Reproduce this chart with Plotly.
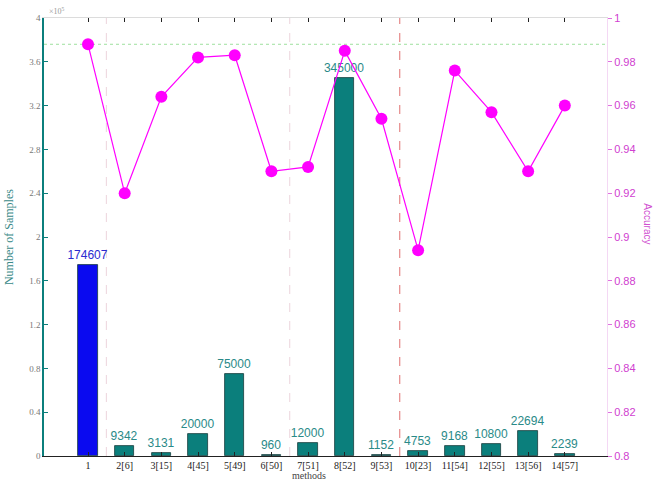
import plotly.graph_objects as go

# Per-method sample counts and accuracies
methods = ["1", "2[6]", "3[15]", "4[45]", "5[49]", "6[50]", "7[51]", "8[52]",
           "9[53]", "10[23]", "11[54]", "12[55]", "13[56]", "14[57]"]
positions = list(range(1, 15))
samples = [174607, 9342, 3131, 20000, 75000, 960, 12000, 345000,
           1152, 4753, 9168, 10800, 22694, 2239]
accuracy = [0.988, 0.920, 0.964, 0.982, 0.983, 0.930, 0.932, 0.985,
            0.954, 0.894, 0.976, 0.957, 0.930, 0.960]
left_ticks = [0, 40000, 80000, 120000, 160000, 200000, 240000, 280000, 320000, 360000, 400000]
left_tick_text = ["0", "0.4", "0.8", "1.2", "1.6", "2", "2.4", "2.8", "3.2", "3.6", "4"]
reference_acc = 0.988
group_bounds = [1.5, 6.5]
split_bound = 9.5

TEAL = "#0b7f7c"
BLUE = "#0a0af0"
MAGENTA = "#ff00ff"

bar_colors = [BLUE] + [TEAL] * (len(samples) - 1)
label_colors = ["#2a2ad0"] + ["#2a8a88"] * (len(samples) - 1)

fig = go.Figure()

fig.add_trace(go.Bar(
    x=positions, y=samples, width=0.53,
    marker=dict(color=bar_colors, line=dict(color="#163c3c", width=0.8)),
    text=[str(v) for v in samples], textposition="outside", constraintext="none",
    textfont=dict(family="Liberation Sans, Arial", size=12, color=label_colors),
    cliponaxis=False, yaxis="y", showlegend=False,
))

fig.add_trace(go.Scatter(
    x=positions, y=accuracy, mode="lines+markers", yaxis="y2",
    line=dict(color=MAGENTA, width=1.2),
    marker=dict(color=MAGENTA, size=12),
    showlegend=False, cliponaxis=False,
))

# invisible trace so the top (box) axis is drawn
fig.add_trace(go.Scatter(x=[1], y=[0], xaxis="x2", yaxis="y", mode="markers",
                         marker=dict(opacity=0), showlegend=False, hoverinfo="skip"))

shapes = []
for xb in group_bounds:
    shapes.append(dict(type="line", xref="x", yref="paper", x0=xb, x1=xb, y0=0, y1=1,
                       line=dict(color="#ecd4dc", width=1, dash="dash"), layer="below"))
shapes.append(dict(type="line", xref="x", yref="paper", x0=split_bound, x1=split_bound, y0=0, y1=1,
                   line=dict(color="#e07070", width=1, dash="dash"), layer="below"))
shapes.append(dict(type="line", xref="paper", yref="y2", x0=0, x1=1, y0=reference_acc, y1=reference_acc,
                   line=dict(color="#9ee09e", width=1, dash="dot"), layer="below"))

xrange = [-0.2, 15.15]

fig.update_layout(
    width=662, height=483,
    margin=dict(l=44, r=55, t=15, b=22),
    paper_bgcolor="white", plot_bgcolor="white",
    bargap=0,
    shapes=shapes,
    xaxis=dict(range=xrange, tickvals=positions, ticktext=methods,
               ticks="inside", ticklen=4, tickcolor="#222",
               showline=True, linecolor="#222", linewidth=1,
               showgrid=False, zeroline=False,
               tickfont=dict(family="Liberation Serif, Times New Roman", size=10, color="#222")),
    xaxis2=dict(range=xrange, overlaying="x", side="top", tickvals=positions,
                showticklabels=False, ticks="inside", ticklen=4, tickcolor="#222",
                showline=True, linecolor="#dcdcdc", linewidth=1,
                showgrid=False, zeroline=False),
    yaxis=dict(range=[0, 400000], tickvals=left_ticks, ticktext=left_tick_text,
               ticks="inside", ticklen=4, tickcolor=TEAL,
               showline=True, linecolor=TEAL, linewidth=1.5,
               showgrid=False, zeroline=False,
               tickfont=dict(family="Liberation Serif, Times New Roman", size=9, color="#777")),
    yaxis2=dict(range=[0.8, 1.0], overlaying="y", side="right",
                tickvals=[0.8, 0.82, 0.84, 0.86, 0.88, 0.9, 0.92, 0.94, 0.96, 0.98, 1.0],
                ticktext=["0.8", "0.82", "0.84", "0.86", "0.88", "0.9", "0.92", "0.94", "0.96", "0.98", "1"],
                ticks="outside", ticklen=4, tickcolor="#e070e0",
                showline=True, linecolor="#f4d8f4", linewidth=1,
                showgrid=False, zeroline=False,
                tickfont=dict(family="Liberation Sans, Arial", size=11, color="#d040d0")),
    annotations=[
        dict(text="Number of Samples", xref="paper", yref="paper", x=-0.062, y=0.5,
             textangle=-90, showarrow=False, xanchor="center", yanchor="middle",
             font=dict(family="Liberation Serif, Times New Roman", size=12, color="#3a8a88")),
        dict(text="Accuracy", x=1.072, y=0.53, xref="paper", yref="paper",
             textangle=90, showarrow=False, xanchor="center", yanchor="middle",
             font=dict(family="Liberation Sans, Arial", size=10, color="#d050d0")),
        dict(text="methods", xref="paper", yref="paper", x=0.47, y=-0.03,
             showarrow=False, xanchor="center", yanchor="top", borderpad=0,
             font=dict(family="Liberation Serif, Times New Roman", size=10, color="#444")),
        dict(text="×10<sup>5</sup>", xref="paper", yref="paper", x=0.005, y=1.0,
             showarrow=False, xanchor="left", yanchor="bottom",
             font=dict(family="Liberation Serif, Times New Roman", size=8, color="#999")),
    ],
)

fig.write_html("out.html")
